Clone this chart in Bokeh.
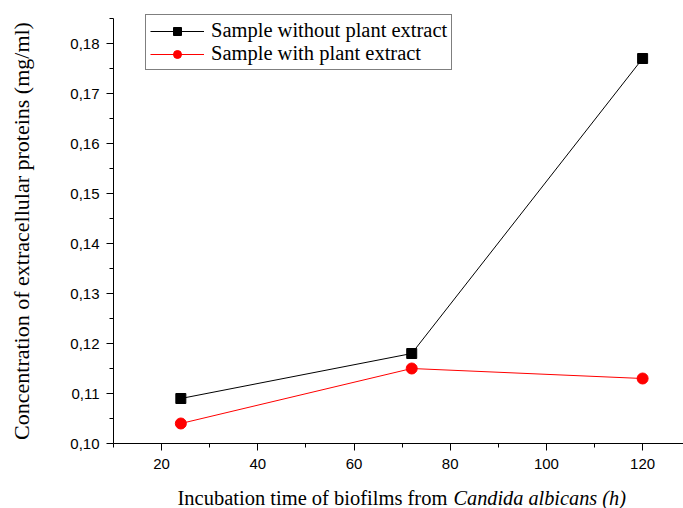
from bokeh.plotting import figure
from bokeh.models import (Range1d, CustomJSTickFormatter, Legend, LegendItem, Label,
                          FixedTicker)
from bokeh.embed import file_html
from bokeh.resources import INLINE

hours = [24, 72, 120]
without_extract = [0.109, 0.118, 0.177]
with_extract = [0.104, 0.115, 0.113]
x_ticks = [20, 40, 60, 80, 100, 120]
x_minor = [10, 30, 50, 70, 90, 110, 130]
y_ticks = [0.10, 0.11, 0.12, 0.13, 0.14, 0.15, 0.16, 0.17, 0.18]
y_minor = [0.105, 0.115, 0.125, 0.135, 0.145, 0.155, 0.165, 0.175, 0.185]

SERIF = "Liberation Serif"
SANS = "Liberation Sans"

# axis box: x 10..128.5, y 0.10..0.185 ; frame covers whole canvas
X0, X1 = 10, 128.5
Y0, Y1 = 0.10, 0.185
W, H = 683, 508
LEFT, BOTTOM_PX = 113, 65
xs = (W - LEFT) / (X1 - X0)
ys = (H - BOTTOM_PX - 18) / (Y1 - Y0)

p = figure(width=W, height=H, output_backend="svg", toolbar_location=None,
           x_range=Range1d(X0 - LEFT / xs, X1),
           y_range=Range1d(Y0 - BOTTOM_PX / ys, Y1 + 18 / ys),
           min_border=0)
p.outline_line_color = None
p.grid.visible = False
p.background_fill_color = "white"
p.border_fill_color = "white"

r1 = p.line(hours, without_extract, line_color="black", line_width=1)
m1 = p.scatter(hours, without_extract, marker="square", size=10,
               fill_color="black", line_color="black")
r2 = p.line(hours, with_extract, line_color="red", line_width=1)
m2 = p.scatter(hours, with_extract, marker="circle", size=11,
               fill_color="red", line_color="red")

for ax in (p.xaxis[0], p.yaxis[0]):
    ax.axis_line_color = "black"
    ax.axis_line_width = 1
    ax.major_tick_line_color = "black"
    ax.minor_tick_line_color = "black"
    ax.major_tick_out = 7
    ax.major_tick_in = 0
    ax.minor_tick_out = 4
    ax.minor_tick_in = 0
    ax.major_label_text_font = SANS
    ax.major_label_text_font_size = "15px"
    ax.major_label_text_color = "black"

p.xaxis.fixed_location = Y0
p.xaxis.bounds = (X0, X1)
p.yaxis.fixed_location = X0
p.yaxis.bounds = (Y0, Y1)

p.xaxis.ticker = FixedTicker(ticks=x_ticks, minor_ticks=x_minor)
p.yaxis.ticker = FixedTicker(ticks=y_ticks, minor_ticks=y_minor)
p.yaxis.formatter = CustomJSTickFormatter(code="return tick.toFixed(2).replace('.', ',');")
p.xaxis.major_label_standoff = 8
p.yaxis.major_label_standoff = 7

p.yaxis.axis_label = "Concentration of extracellular proteins (mg/ml)"
p.yaxis.axis_label_text_font = SERIF
p.yaxis.axis_label_text_font_size = "22px"
p.yaxis.axis_label_text_font_style = "normal"
p.yaxis.axis_label_text_color = "black"
p.yaxis.axis_label_standoff = 33

p.add_layout(Label(x=X0, y=Y0, x_offset=64, y_offset=-54,
                   text="Incubation time of biofilms from",
                   text_font=SERIF, text_font_size="20.5px", text_color="black",
                   text_baseline="middle"))
p.add_layout(Label(x=X0, y=Y0, x_offset=340, y_offset=-54,
                   text="Candida albicans (h)", text_font_style="italic",
                   text_font=SERIF, text_font_size="20.3px", text_color="black",
                   text_baseline="middle"))

legend = Legend(items=[
    LegendItem(label="Sample without plant extract", renderers=[r1, m1]),
    LegendItem(label="Sample with plant extract", renderers=[r2, m2]),
], location=(145, H - 70))
legend.label_text_font = SERIF
legend.label_text_font_size = "20.5px"
legend.label_text_color = "black"
legend.border_line_color = "black"
legend.border_line_width = 1
legend.background_fill_alpha = 1
legend.glyph_width = 54
legend.glyph_height = 20
legend.label_height = 20
legend.spacing = 0
legend.padding = 4
legend.margin = 0
legend.label_standoff = 7
p.add_layout(legend, "center")

open("out.html", "w").write(file_html(p, INLINE))
